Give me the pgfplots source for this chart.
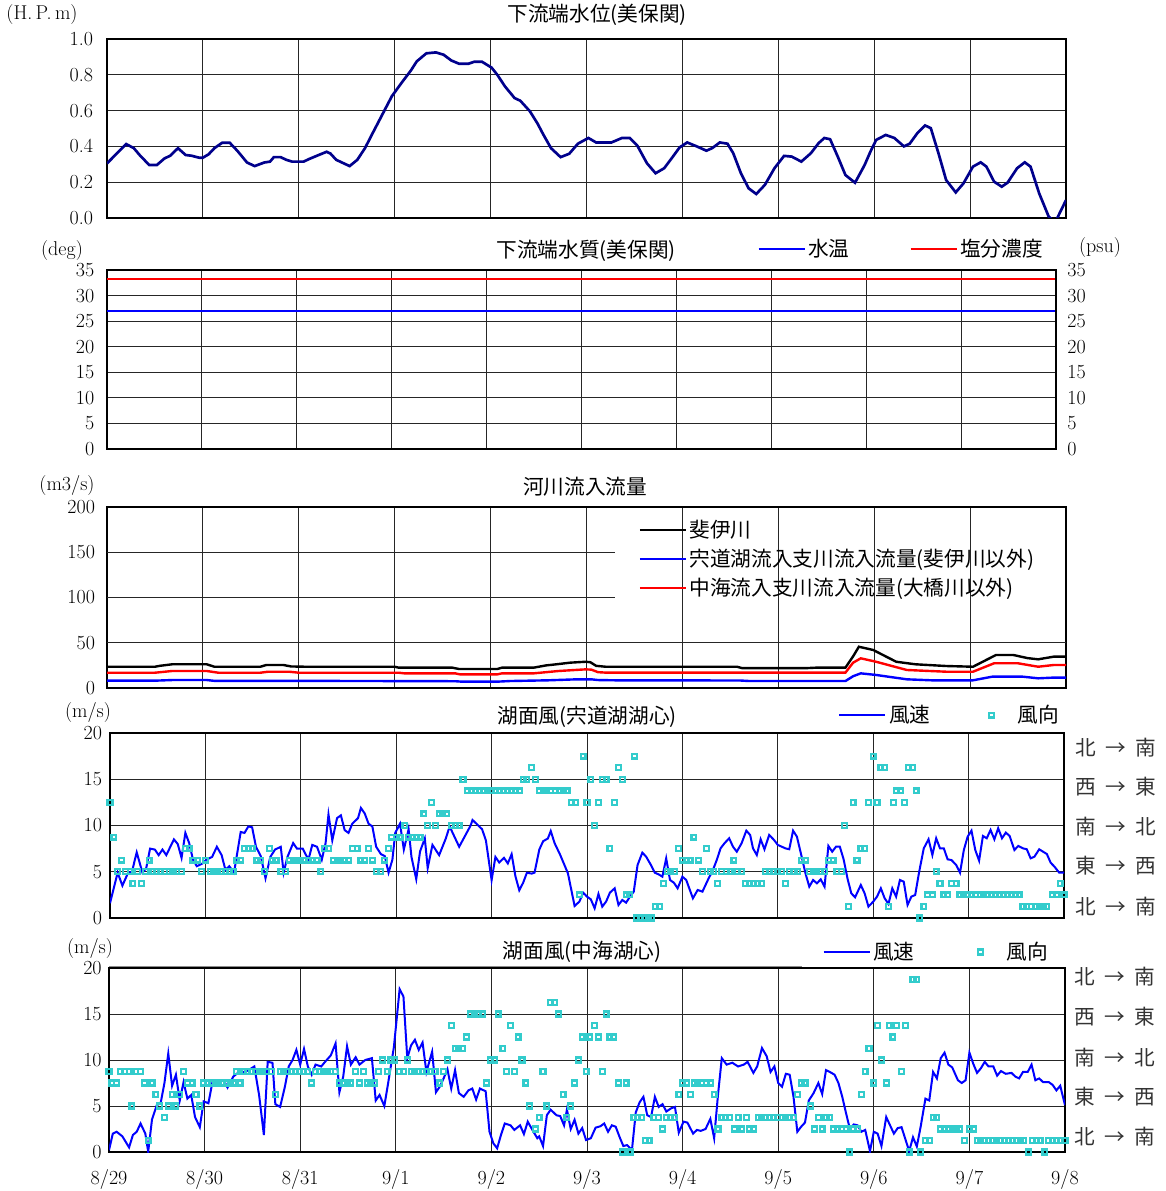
\documentclass[border=0pt]{standalone}
\usepackage{fontspec}
\usepackage{pgfplots}
\pgfplotsset{compat=1.18}
\newfontfamily\cjk{Noto Sans CJK JP}
\definecolor{wlblue}{RGB}{0,0,140}
\definecolor{wdir}{RGB}{51,204,204}
\newcommand{\tfont}{\fontsize{15}{18}\selectfont}
\newcommand{\jfont}{\fontsize{15.5}{18}\selectfont}

\pgfplotsset{
  panel/.style={
    scale only axis, anchor=north west,
    xmin=0, xmax=10, xtick={0,1,...,10}, xticklabels={},
    grid=major, grid style={black!85, line width=0.75pt},
    axis line style={line width=1.7pt},
    major tick length=0pt,
    tick label style={font=\tfont},
    /pgf/number format/assume math mode=true,
    clip mode=individual,
    legend image code/.code={\draw[##1] (0pt,0pt) -- (34.5pt,0pt);},
  },
  wind/.style={panel, ymin=0, ymax=20, ytick={0,5,...,20},
    legend columns=2,
    legend style={draw=none, fill=none, font=\cjk\jfont, anchor=west},
  },
  dirmarks/.style={only marks, mark=square, mark size=1.8pt, color=wdir,
    mark options={line width=1.7pt},
    legend image code/.code={\path (0pt,0pt) (26pt,0pt);
      \draw[##1] plot coordinates {(8.5pt,0pt)};}},
  speed/.style={blue, line width=1.5pt},
}

\begin{document}
\begin{tikzpicture}
\begin{scope}[x=0.75pt, y=-0.75pt]
\useasboundingbox (0,0) rectangle (1165,1191);
\end{scope}

% ---- panel 1: water level ----
\begin{axis}[panel, at={(80.25pt,-29.25pt)}, width=719.25pt, height=134.25pt,
  ymin=0, ymax=1, ytick={0,0.2,0.4,0.6,0.8,1.0},
  yticklabel style={/pgf/number format/.cd, fixed, fixed zerofill, precision=1, /tikz/.cd, xshift=-7pt}]
\addplot[wlblue, line width=2pt] coordinates {
(0,0.305) (0.20,0.413) (0.28,0.39) (0.34,0.352) (0.44,0.296) (0.52,0.296) (0.60,0.333)
(0.66,0.348) (0.74,0.39) (0.82,0.352) (0.88,0.348) (0.96,0.337) (1.0,0.337) (1.06,0.356)
(1.12,0.39) (1.20,0.42) (1.28,0.42) (1.36,0.375) (1.46,0.31) (1.54,0.29) (1.64,0.31)
(1.70,0.315) (1.74,0.34) (1.81,0.34) (1.87,0.325) (1.93,0.315) (2.05,0.315) (2.11,0.33)
(2.19,0.348) (2.29,0.37) (2.33,0.36) (2.39,0.325) (2.47,0.305) (2.53,0.29) (2.61,0.325)
(2.69,0.39) (2.77,0.474) (2.87,0.577) (2.97,0.68) (3.07,0.754) (3.17,0.825) (3.23,0.875)
(3.33,0.92) (3.43,0.925) (3.51,0.912) (3.59,0.88) (3.67,0.862) (3.77,0.862) (3.83,0.873)
(3.91,0.873) (4.01,0.84) (4.07,0.80) (4.15,0.735) (4.25,0.67) (4.31,0.655) (4.41,0.596)
(4.49,0.527) (4.55,0.466) (4.63,0.39) (4.73,0.34) (4.82,0.359) (4.91,0.415) (5.02,0.447)
(5.10,0.422) (5.26,0.422) (5.37,0.447) (5.45,0.447) (5.53,0.404) (5.63,0.306) (5.72,0.25)
(5.81,0.278) (5.89,0.335) (5.97,0.394) (6.05,0.422) (6.15,0.40) (6.25,0.376) (6.31,0.39)
(6.39,0.422) (6.47,0.415) (6.53,0.362) (6.61,0.25) (6.69,0.166) (6.77,0.134) (6.86,0.185)
(6.96,0.278) (7.06,0.347) (7.14,0.343) (7.24,0.315) (7.34,0.362) (7.42,0.418) (7.48,0.447)
(7.54,0.44) (7.62,0.343) (7.70,0.24) (7.80,0.197) (7.90,0.296) (7.96,0.37) (8.02,0.436)
(8.12,0.464) (8.21,0.447) (8.31,0.40) (8.37,0.415) (8.45,0.474) (8.53,0.517) (8.59,0.502)
(8.67,0.362) (8.75,0.212) (8.85,0.143) (8.93,0.193) (9.03,0.287) (9.11,0.311) (9.17,0.287)
(9.25,0.203) (9.33,0.175) (9.39,0.197) (9.49,0.278) (9.57,0.311) (9.63,0.287) (9.72,0.138)
(9.82,0.007) (9.86,-0.01) (9.90,-0.01) (10.0,0.1)
};
\end{axis}

% ---- panel 2: water quality ----
\begin{axis}[panel, at={(80.25pt,-202.5pt)}, width=711.75pt, height=134.25pt,
  ymin=0, ymax=35, ytick={0,5,...,35}, yticklabel style={xshift=-6pt},
  legend columns=2,
  legend style={draw=none, fill=none, font=\cjk\jfont, anchor=west, at={(0.681,1.117)},
    /tikz/every even column/.append style={column sep=43pt}}]
\addplot[blue, line width=1.5pt] coordinates {(0,27.0) (10,27.0)};
\addlegendentry{水温}
\addplot[red, line width=1.5pt] coordinates {(0,33.3) (10,33.3)};
\addlegendentry{塩分濃度}
\end{axis}
\begin{axis}[scale only axis, anchor=north west, at={(80.25pt,-202.5pt)}, width=711.75pt, height=134.25pt,
  xmin=0, xmax=10, ymin=0, ymax=35, axis x line=none, axis y line*=right,
  ytick={0,5,...,35}, major tick length=0pt, tick label style={font=\tfont},
  /pgf/number format/assume math mode=true,
  yticklabel style={xshift=5pt}, axis line style={line width=1.7pt}]
\end{axis}

% ---- panel 3: river inflow ----
\begin{axis}[panel, at={(80.25pt,-380.25pt)}, width=719.25pt, height=135.75pt,
  ymin=0, ymax=200, ytick={0,50,...,200}, yticklabel style={xshift=-5.5pt},
  ymajorgrids=false,
  legend cell align=left,
  legend style={at={(0.5297,1)}, anchor=north west, draw=none, fill=none, font=\cjk\jfont,
    inner xsep=17.5pt, inner ysep=8pt, row sep=3pt}]
\draw[black!85, line width=0.75pt] (axis cs:0,50) -- (axis cs:10,50);
\draw[black!85, line width=0.75pt] (axis cs:0,100) -- (axis cs:5.30,100);
\draw[black!85, line width=0.75pt] (axis cs:0,150) -- (axis cs:5.30,150);
\addplot[black, line width=1.8pt] coordinates {
(0,23.5) (0.5,23.5) (0.55,24.5) (0.68,26.2) (1.04,26.2) (1.12,23.5) (1.6,23.5) (1.66,25.4)
(1.84,25.4) (1.92,23.8) (2.07,23.5) (3.0,23.5) (3.04,22.5) (3.6,22.5) (3.67,21.0) (4.07,21.0)
(4.12,22.5) (4.45,22.5) (4.58,25) (4.67,26) (4.83,28) (4.99,29) (5.04,28.5) (5.10,24.5)
(5.2,23.5) (6.57,23.5) (6.62,22) (7.3,22) (7.4,22.5) (7.70,22.5) (7.78,35) (7.84,45.6)
(7.99,42) (8.1,36) (8.23,29) (8.43,26.2) (8.75,24.3) (9.03,23.5) (9.15,30) (9.27,36.5)
(9.45,36.5) (9.6,33) (9.71,31.7) (9.87,34.6) (10,34.6)
};
\addlegendentry{斐伊川}
\addplot[blue, line width=1.8pt] coordinates {
(0,8.1) (0.5,8.1) (0.68,8.8) (1.04,8.8) (1.12,7.9) (2.0,7.9) (3.63,7.5) (3.7,7.0) (4.07,7.0)
(4.2,7.7) (4.6,8.5) (4.9,9.6) (5.05,9.6) (5.12,8.8) (5.3,8.5) (6.6,8.3) (6.7,7.7) (7.70,7.7)
(7.78,13) (7.86,16.2) (8.02,14.4) (8.34,9.6) (8.6,8.5) (9.03,8.5) (9.23,12.5) (9.55,12.5)
(9.71,10.7) (9.87,11.5) (10,11.5)
};
\addlegendentry{宍道湖流入支川流入流量(斐伊川以外)}
\addplot[red, line width=1.8pt] coordinates {
(0,16.9) (0.5,16.9) (0.68,18.8) (1.04,18.8) (1.16,16.9) (1.6,16.9) (1.68,18) (1.9,18)
(2.0,16.9) (3.04,16.9) (3.1,16.2) (3.63,16.2) (3.68,15.1) (4.07,15.1) (4.12,16.2) (4.45,16.2)
(4.71,18.8) (4.99,20.6) (5.05,20.3) (5.12,17.5) (5.2,17) (7.70,17) (7.78,28) (7.86,32.8)
(8.02,29) (8.34,19.9) (8.75,18) (9.03,18) (9.25,27.3) (9.5,27.3) (9.71,23.5) (9.87,25.4)
(10,25.4)
};
\addlegendentry{中海流入支川流入流量(大橋川以外)}
\end{axis}

% ---- panel 4: wind, Shinji lake ----
\begin{axis}[wind, at={(82.5pt,-549.75pt)}, width=715.5pt, height=138.75pt,
  yticklabel style={xshift=-2.5pt},
  legend style={at={(0.759,1.097)}, /tikz/every even column/.append style={column sep=35pt}}]
\addplot[speed] coordinates {
(0,1.6) (0.08,4.9) (0.13,3.5) (0.19,4.9) (0.23,5.0) (0.28,7.1) (0.34,4.9) (0.38,5.4) (0.42,7.5)
(0.47,7.4) (0.51,6.8) (0.55,7.4) (0.59,6.8) (0.67,8.5) (0.71,8.0) (0.75,6.5) (0.79,9.2) (0.83,8.1)
(0.87,6.3) (0.91,5.6) (0.97,5.9) (1.01,6.3) (1.07,6.6) (1.12,7.7) (1.17,6.8) (1.21,5.2) (1.25,5.6)
(1.30,4.9) (1.37,9.3) (1.41,9.2) (1.45,9.9) (1.49,9.8) (1.53,7.7) (1.58,6.7) (1.63,4.3) (1.68,6.6)
(1.73,7.4) (1.79,7.7) (1.82,4.9) (1.86,6.6) (1.92,8.1) (1.96,7.5) (2.02,7.5) (2.08,6.3) (2.12,7.9)
(2.17,7.7) (2.22,6.3) (2.26,8.1) (2.29,11.2) (2.33,8.4) (2.38,10.8) (2.42,11.1) (2.46,9.5)
(2.50,9.2) (2.54,10.2) (2.60,10.8) (2.63,11.9) (2.67,11.3) (2.71,10.2) (2.75,9.9) (2.79,7.7)
(2.84,6.9) (2.88,6.7) (2.92,4.9) (2.96,6.3) (2.99,9.2) (3.04,10.2) (3.08,7.4) (3.13,9.6)
(3.16,6.6) (3.21,4.2) (3.25,7.2) (3.30,8.6) (3.33,5.4) (3.38,7.9) (3.45,6.8) (3.52,8.6) (3.56,9.9)
(3.66,7.7) (3.78,10.0) (3.80,10.6) (3.90,9.6) (3.94,8.4) (4.00,4.1) (4.04,6.6) (4.08,6.0)
(4.13,6.5) (4.17,5.9) (4.21,6.9) (4.25,4.5) (4.29,3.0) (4.33,3.8) (4.37,4.9) (4.42,4.8) (4.45,4.9)
(4.50,7.4) (4.54,8.3) (4.59,8.6) (4.62,9.4) (4.66,8.1) (4.72,6.8) (4.80,4.83) (4.87,1.30)
(4.92,1.77) (4.96,2.74) (5.00,2.31) (5.04,2.02) (5.08,1.05) (5.12,2.60) (5.16,1.23) (5.20,1.77)
(5.24,2.74) (5.29,3.21) (5.33,1.41) (5.37,1.95) (5.41,1.66) (5.45,2.31) (5.49,2.85) (5.53,5.73)
(5.58,7.07) (5.62,6.63) (5.67,5.73) (5.71,4.90) (5.75,4.72) (5.79,4.47) (5.83,6.45) (5.87,4.11)
(5.91,3.82) (5.95,3.21) (6.00,4.47) (6.04,4.11) (6.11,2.13) (6.16,3.03) (6.21,2.85) (6.27,4.18)
(6.32,5.19) (6.36,6.27) (6.40,7.53) (6.44,8.07) (6.49,8.62) (6.53,7.71) (6.57,7.17) (6.62,8.07)
(6.67,9.44) (6.71,8.98) (6.74,7.53) (6.78,6.81) (6.82,8.51) (6.86,7.43) (6.91,8.98) (6.96,8.44)
(7.00,7.90) (7.08,7.53) (7.12,7.43) (7.16,9.44) (7.20,8.80) (7.25,6.63) (7.29,4.83) (7.33,3.39)
(7.37,4.11) (7.41,3.75) (7.45,4.18) (7.49,3.39) (7.53,7.79) (7.57,7.17) (7.61,7.71) (7.65,7.71)
(7.69,6.34) (7.73,4.29) (7.77,2.67) (7.81,2.24) (7.87,3.57) (7.91,2.67) (7.95,1.23) (8.00,1.77)
(8.04,2.31) (8.08,3.21) (8.12,2.13) (8.16,1.52) (8.20,3.21) (8.24,2.31) (8.28,4.11) (8.32,3.93)
(8.36,1.41) (8.40,2.31) (8.44,2.49) (8.48,4.90) (8.53,7.53) (8.58,8.51) (8.62,6.81) (8.66,8.62)
(8.70,7.53) (8.74,7.53) (8.78,6.34) (8.82,6.27) (8.87,5.73) (8.91,4.90) (8.95,7.35) (8.99,8.80)
(9.03,9.44) (9.07,7.35) (9.11,6.20) (9.15,8.87) (9.19,8.62) (9.23,9.52) (9.27,8.51) (9.31,9.70)
(9.35,8.62) (9.39,9.23) (9.43,8.87) (9.48,7.35) (9.52,7.79) (9.57,7.53) (9.61,7.43) (9.65,6.45)
(9.69,6.63) (9.74,7.43) (9.78,7.17) (9.82,6.92) (9.86,5.98) (9.90,5.55) (9.95,4.90) (10,4.90)
};
\addlegendentry{風速}
\addplot[dirmarks] coordinates {
(0,12.5) (0.04,8.75) (0.08,5) (0.12,6.25) (0.16,5) (0.21,5) (0.24,3.75) (0.29,5) (0.33,3.75)
(0.37,5) (0.41,6.25) (0.45,5) (0.49,5) (0.53,5) (0.57,5) (0.62,5) (0.66,5) (0.70,5) (0.75,5)
(0.79,7.5) (0.83,7.5) (0.87,6.25) (0.92,6.25) (0.96,5) (1.0,6.25) (1.05,5) (1.09,5) (1.13,5)
(1.17,5) (1.21,5) (1.25,5) (1.29,5) (1.33,6.25) (1.37,6.25) (1.41,7.5) (1.45,7.5) (1.49,7.5)
(1.54,6.25) (1.58,6.25) (1.62,5) (1.67,7.5) (1.70,6.25) (1.74,6.25) (1.79,5) (1.84,5) (1.88,6.25)
(1.92,6.25) (1.96,6.25) (2.00,6.25) (2.04,6.25) (2.08,6.25) (2.12,6.25) (2.17,6.25) (2.21,5)
(2.25,7.5) (2.29,7.5) (2.34,6.25) (2.38,6.25) (2.42,6.25) (2.46,6.25) (2.50,6.25) (2.54,7.5)
(2.59,7.5) (2.63,6.25) (2.67,6.25) (2.71,7.5) (2.75,6.25) (2.79,5) (2.84,5) (2.88,6.25) (2.92,7.5)
(2.95,8.75) (3.0,8.75) (3.04,8.75) (3.09,10) (3.13,8.75) (3.17,8.75) (3.21,8.75) (3.25,8.75)
(3.29,11.25) (3.33,10) (3.37,12.5) (3.41,10) (3.45,11.25) (3.49,11.25) (3.53,11.25) (3.58,10)
(3.62,10) (3.66,10) (3.70,15) (3.75,13.75) (3.79,13.75) (3.83,13.75) (3.87,13.75) (3.92,13.75)
(3.96,13.75) (4.00,13.75) (4.04,13.75) (4.08,13.75) (4.12,13.75) (4.17,13.75) (4.21,13.75)
(4.25,13.75) (4.29,13.75) (4.33,15) (4.37,15) (4.42,16.25) (4.46,15) (4.50,13.75) (4.54,13.75)
(4.58,13.75) (4.62,13.75) (4.67,13.75) (4.71,13.75) (4.75,13.75) (4.79,13.75) (4.84,12.5)
(4.88,12.5) (4.92,2.5) (4.96,17.5) (5.0,12.5) (5.04,15) (5.08,10) (5.12,12.5) (5.16,15) (5.20,15)
(5.24,7.5) (5.29,12.5) (5.33,16.25) (5.37,15) (5.41,2.5) (5.45,2.5) (5.50,17.5) (5.52,0) (5.56,0)
(5.60,0) (5.64,0) (5.68,0) (5.72,1.25) (5.76,1.25) (5.80,3.75) (5.84,5) (5.88,5) (5.92,5)
(5.96,7.5) (6.00,6.25) (6.04,6.25) (6.08,6.25) (6.12,8.75) (6.17,6.25) (6.21,5) (6.25,7.5)
(6.29,5) (6.33,5) (6.37,3.75) (6.41,5) (6.46,5) (6.50,5) (6.54,6.25) (6.58,5) (6.62,5) (6.66,3.75)
(6.70,3.75) (6.75,3.75) (6.79,3.75) (6.83,3.75) (6.87,5) (6.91,5) (6.95,5) (7.00,5) (7.04,5)
(7.08,3.75) (7.12,5) (7.17,5) (7.21,5) (7.25,6.25) (7.29,6.25) (7.33,5) (7.37,5) (7.41,5) (7.45,5)
(7.49,5) (7.53,6.25) (7.58,6.25) (7.62,5) (7.67,5) (7.70,10) (7.74,1.25) (7.79,12.5) (7.83,6.25)
(7.87,7.5) (7.91,7.5) (7.95,12.5) (8.0,17.5) (8.04,12.5) (8.08,16.25) (8.12,16.25) (8.16,1.25)
(8.21,12.5) (8.24,13.75) (8.29,13.75) (8.33,12.5) (8.37,16.25) (8.41,16.25) (8.45,13.75) (8.49,0)
(8.53,1.25) (8.57,2.5) (8.62,2.5) (8.66,5) (8.70,3.75) (8.74,2.5) (8.78,2.5) (8.82,3.75) (8.87,3.75)
(8.91,2.5) (8.95,2.5) (8.99,2.5) (9.03,2.5) (9.07,2.5) (9.12,2.5) (9.16,2.5) (9.20,2.5) (9.24,2.5)
(9.28,2.5) (9.32,2.5) (9.37,2.5) (9.41,2.5) (9.45,2.5) (9.49,2.5) (9.53,2.5) (9.57,1.25)
(9.61,1.25) (9.66,1.25) (9.70,1.25) (9.74,1.25) (9.78,1.25) (9.82,1.25) (9.88,2.5) (9.92,2.5)
(9.96,3.75) (10.0,2.5)
};
\addlegendentry{風向}
\end{axis}

% ---- panel 5: wind, Nakaumi ----
\begin{axis}[wind, at={(81.75pt,-726pt)}, width=717pt, height=138pt,
  yticklabel style={xshift=-2pt},
  xticklabels={8/29,8/30,8/31,9/1,9/2,9/3,9/4,9/5,9/6,9/7,9/8},
  xticklabel style={inner sep=0pt, yshift=-13pt},
  legend style={at={(0.742,1.087)}, /tikz/every even column/.append style={column sep=38.5pt}}]
\addplot[speed] coordinates {
(0,0.2) (0.04,2.0) (0.08,2.2) (0.14,1.7) (0.21,0.5) (0.25,1.85) (0.29,2.2) (0.33,3.1) (0.38,2.0)
(0.41,0.04) (0.45,3.55) (0.50,5.1) (0.54,5.3) (0.58,7.5) (0.62,10.7) (0.66,7.2) (0.70,8.4)
(0.74,5.6) (0.78,7.6) (0.82,5.8) (0.86,6.2) (0.90,3.8) (0.95,2.7) (0.99,5.5) (1.04,5.3) (1.08,7.5)
(1.14,7.6) (1.20,7.8) (1.24,7.0) (1.30,8.2) (1.36,8.7) (1.42,8.7) (1.46,8.9) (1.52,9.3) (1.57,6.2)
(1.62,1.85) (1.66,9.8) (1.71,9.7) (1.74,5.2) (1.79,4.9) (1.84,7.1) (1.88,9.3) (1.92,10.0)
(1.96,11.1) (2.0,9.5) (2.04,11.2) (2.08,9.3) (2.12,8.4) (2.16,9.5) (2.22,9.3) (2.26,9.8)
(2.32,10.5) (2.37,11.8) (2.41,6.5) (2.45,8.2) (2.49,11.5) (2.53,9.5) (2.58,10.3) (2.62,9.5)
(2.68,10.0) (2.75,10.2) (2.79,5.6) (2.83,6.2) (2.88,5.0) (2.92,7.5) (2.98,11.4) (3.04,17.7)
(3.08,16.9) (3.12,10.2) (3.16,11.6) (3.20,12.2) (3.24,11.1) (3.28,11.9) (3.32,8.7) (3.38,10.9)
(3.42,6.5) (3.46,7.1) (3.50,8.0) (3.54,9.0) (3.58,6.9) (3.62,8.9) (3.66,6.4) (3.71,6.0) (3.76,6.7)
(3.80,6.9) (3.84,5.7) (3.88,6.9) (3.94,6.6) (3.98,2.2) (4.02,0.95) (4.06,0.4) (4.10,1.85)
(4.14,3.1) (4.20,2.9) (4.24,2.4) (4.30,2.9) (4.34,1.95) (4.38,3.3) (4.44,2.2) (4.48,1.5) (4.50,1.7)
(4.54,0.65) (4.58,4.0) (4.62,4.6) (4.68,4.0) (4.72,3.9) (4.76,2.9) (4.79,4.6) (4.83,2.5) (4.87,3.5)
(4.91,2.0) (4.95,2.6) (4.99,1.3) (5.04,1.5) (5.09,2.65) (5.14,2.8) (5.18,3.1) (5.22,2.2) (5.26,2.9)
(5.30,2.75) (5.34,1.65) (5.38,0.65) (5.42,0.75) (5.47,0.2) (5.51,4.3) (5.55,5.4) (5.59,6.0)
(5.63,4.0) (5.67,3.8) (5.71,6.0) (5.75,4.9) (5.79,5.2) (5.83,4.4) (5.88,4.75) (5.92,4.9) (5.96,2.1)
(6.01,3.3) (6.05,3.2) (6.11,2.0) (6.15,2.4) (6.19,2.3) (6.24,2.5) (6.29,3.6) (6.33,1.5) (6.37,6.2)
(6.41,10.2) (6.46,9.5) (6.52,9.7) (6.58,9.3) (6.64,9.5) (6.68,9.8) (6.74,8.6) (6.78,9.3)
(6.83,11.3) (6.88,10.4) (6.92,8.7) (6.96,9.3) (7.0,7.5) (7.04,7.1) (7.08,8.5) (7.12,8.4) (7.16,6.0)
(7.20,2.2) (7.24,2.75) (7.28,3.2) (7.32,5.6) (7.37,6.4) (7.42,7.5) (7.46,6.3) (7.50,8.9) (7.54,8.7)
(7.59,8.4) (7.63,7.5) (7.67,6.0) (7.71,4.2) (7.75,2.5) (7.79,3.0) (7.83,2.9) (7.87,2.2) (7.91,2.4)
(7.96,0.1) (8.0,2.2) (8.04,2.0) (8.08,0.65) (8.13,3.8) (8.17,2.9) (8.21,2.0) (8.25,2.6) (8.29,2.7)
(8.33,1.4) (8.37,0.1) (8.41,1.6) (8.45,0.6) (8.49,2.75) (8.54,5.8) (8.58,5.6) (8.62,8.7) (8.66,8.0)
(8.70,10.2) (8.74,10.8) (8.78,9.5) (8.82,9.2) (8.88,7.8) (8.92,7.5) (8.96,7.8) (9.0,10.8)
(9.04,9.6) (9.08,8.6) (9.12,9.1) (9.16,9.8) (9.20,9.3) (9.25,9.3) (9.29,8.3) (9.33,8.8) (9.38,8.5)
(9.44,8.6) (9.48,8.2) (9.52,8.0) (9.56,8.7) (9.61,8.7) (9.65,9.5) (9.69,7.8) (9.73,8.0) (9.77,7.6)
(9.83,7.6) (9.87,7.3) (9.91,6.7) (9.95,7.2) (10.0,5.1)
};
\addlegendentry{風速}
\addplot[dirmarks] coordinates {
(0,8.75) (0.03,7.5) (0.08,7.5) (0.12,8.75) (0.16,8.75) (0.21,8.75) (0.24,5) (0.28,8.75)
(0.33,8.75) (0.37,7.5) (0.41,1.25) (0.45,7.5) (0.49,6.25) (0.53,5) (0.58,3.75) (0.62,5)
(0.66,6.25) (0.70,5) (0.74,6.25) (0.78,8.75) (0.82,7.5) (0.87,7.5) (0.91,6.25) (0.95,5) (0.99,7.5)
(1.03,7.5) (1.07,7.5) (1.11,7.5) (1.15,7.5) (1.19,7.5) (1.23,7.5) (1.27,7.5) (1.30,7.5)
(1.33,8.75) (1.37,7.5) (1.41,8.75) (1.45,8.75) (1.49,8.75) (1.53,8.75) (1.57,8.75) (1.61,8.75)
(1.65,8.75) (1.70,8.75) (1.74,6.25) (1.79,8.75) (1.83,8.75) (1.87,8.75) (1.91,8.75) (1.95,8.75)
(1.99,8.75) (2.03,8.75) (2.08,8.75) (2.12,7.5) (2.16,8.75) (2.20,8.75) (2.24,8.75) (2.28,8.75)
(2.32,8.75) (2.37,8.75) (2.41,7.5) (2.45,7.5) (2.49,7.5) (2.53,7.5) (2.58,8.75) (2.62,7.5)
(2.66,8.75) (2.70,7.5) (2.74,7.5) (2.78,7.5) (2.82,8.75) (2.86,10) (2.91,8.75) (2.95,10) (2.99,10)
(3.04,8.75) (3.08,8.75) (3.12,10) (3.16,8.75) (3.20,8.75) (3.24,8.75) (3.28,8.75) (3.32,8.75)
(3.36,8.75) (3.41,8.75) (3.46,7.5) (3.50,8.75) (3.54,10) (3.58,13.75) (3.62,11.25) (3.66,11.25)
(3.70,11.25) (3.74,12.5) (3.78,15) (3.82,15) (3.86,15) (3.91,15) (3.95,7.5) (3.99,10) (4.03,10)
(4.07,15) (4.12,11.25) (4.16,8.75) (4.20,13.75) (4.24,8.75) (4.28,12.5) (4.32,10) (4.36,7.5)
(4.40,5) (4.46,2.5) (4.50,3.75) (4.54,8.75) (4.58,5) (4.62,16.25) (4.66,16.25) (4.70,15)
(4.75,6.25) (4.79,3.75) (4.83,5) (4.87,7.5) (4.91,10) (4.95,12.5) (4.99,8.75) (5.03,12.5)
(5.08,13.75) (5.12,12.5) (5.16,8.75) (5.20,15) (5.24,12.5) (5.28,12.5) (5.33,7.5) (5.37,0)
(5.41,7.5) (5.45,0) (5.49,3.75) (5.53,3.75) (5.57,3.75) (5.61,1.25) (5.65,1.25) (5.70,3.75)
(5.75,3.75) (5.79,2.5) (5.83,3.75) (5.87,3.75) (5.92,3.75) (5.96,6.25) (6.00,7.5) (6.04,7.5)
(6.08,6.25) (6.12,7.5) (6.16,7.5) (6.20,7.5) (6.25,7.5) (6.29,7.5) (6.33,6.25) (6.37,2.5)
(6.41,3.75) (6.45,3.75) (6.49,3.75) (6.54,2.5) (6.58,3.75) (6.62,2.5) (6.67,3.75) (6.70,2.5)
(6.74,2.5) (6.79,3.75) (6.83,3.75) (6.87,3.75) (6.91,3.75) (6.95,3.75) (6.99,3.75) (7.04,3.75)
(7.08,3.75) (7.12,3.75) (7.16,3.75) (7.20,6.25) (7.24,7.5) (7.28,7.5) (7.34,5) (7.38,2.5)
(7.42,3.75) (7.46,2.5) (7.50,3.75) (7.54,3.75) (7.58,2.5) (7.62,2.5) (7.66,2.5) (7.71,2.5) (7.75,0)
(7.79,2.5) (7.83,2.5) (7.87,6.25) (7.91,8.75) (7.95,11.25) (8.0,7.5) (8.04,13.75) (8.08,10)
(8.13,7.5) (8.16,13.75) (8.20,12.5) (8.24,13.75) (8.29,8.75) (8.33,13.75) (8.37,0) (8.41,18.75)
(8.45,18.75) (8.49,0) (8.54,1.25) (8.58,1.25) (8.62,3.75) (8.66,3.75) (8.70,2.5) (8.74,2.5)
(8.78,2.5) (8.82,2.5) (8.86,2.5) (8.90,2.5) (8.95,1.25) (9.00,2.5) (9.04,2.5) (9.08,1.25)
(9.12,1.25) (9.16,1.25) (9.20,1.25) (9.24,1.25) (9.28,1.25) (9.32,1.25) (9.37,1.25) (9.41,1.25)
(9.45,1.25) (9.49,1.25) (9.53,1.25) (9.57,1.25) (9.62,0) (9.66,1.25) (9.70,1.25) (9.74,1.25)
(9.79,0) (9.83,1.25) (9.87,1.25) (9.91,1.25) (9.95,1.25) (10.0,1.25)
};
\addlegendentry{風向}
\end{axis}

% ---- titles, units and direction labels ----
\begin{scope}[x=0.75pt, y=-0.75pt]
\draw[black!45, line width=0.8pt] (109,966.3) -- (802,966.3);
\begin{scope}[every node/.style={font=\cjk\jfont, inner sep=0pt}]
\node at (597,15) {下流端水位(美保関)};
\node at (586,251) {下流端水質(美保関)};
\node at (585,487) {河川流入流量};
\node at (587,717) {湖面風(宍道湖湖心)};
\node at (582,952) {湖面風(中海湖心)};
\foreach \y/\a/\b in {748/北/南, 787/西/東, 827/南/北, 866/東/西, 907/北/南}
  \node[text=black!80] at (1116,\y) {\a\hspace{0.45em}→\hspace{0.45em}\b};
\foreach \y/\a/\b in {977/北/南, 1017/西/東, 1058/南/北, 1097/東/西, 1137/北/南}
  \node[text=black!80] at (1115,\y) {\a\hspace{0.45em}→\hspace{0.45em}\b};
\end{scope}
\begin{scope}[every node/.style={font=\tfont, inner sep=0pt}]
\node at (42,15) {(H.\,P.\,m)};
\node at (62,251) {(deg)};
\node at (1100,248) {(psu)};
\node at (67,486) {(m3/s)};
\node at (88,713) {(m/s)};
\node at (90,948) {(m/s)};
\end{scope}
\end{scope}
\end{tikzpicture}
\end{document}
